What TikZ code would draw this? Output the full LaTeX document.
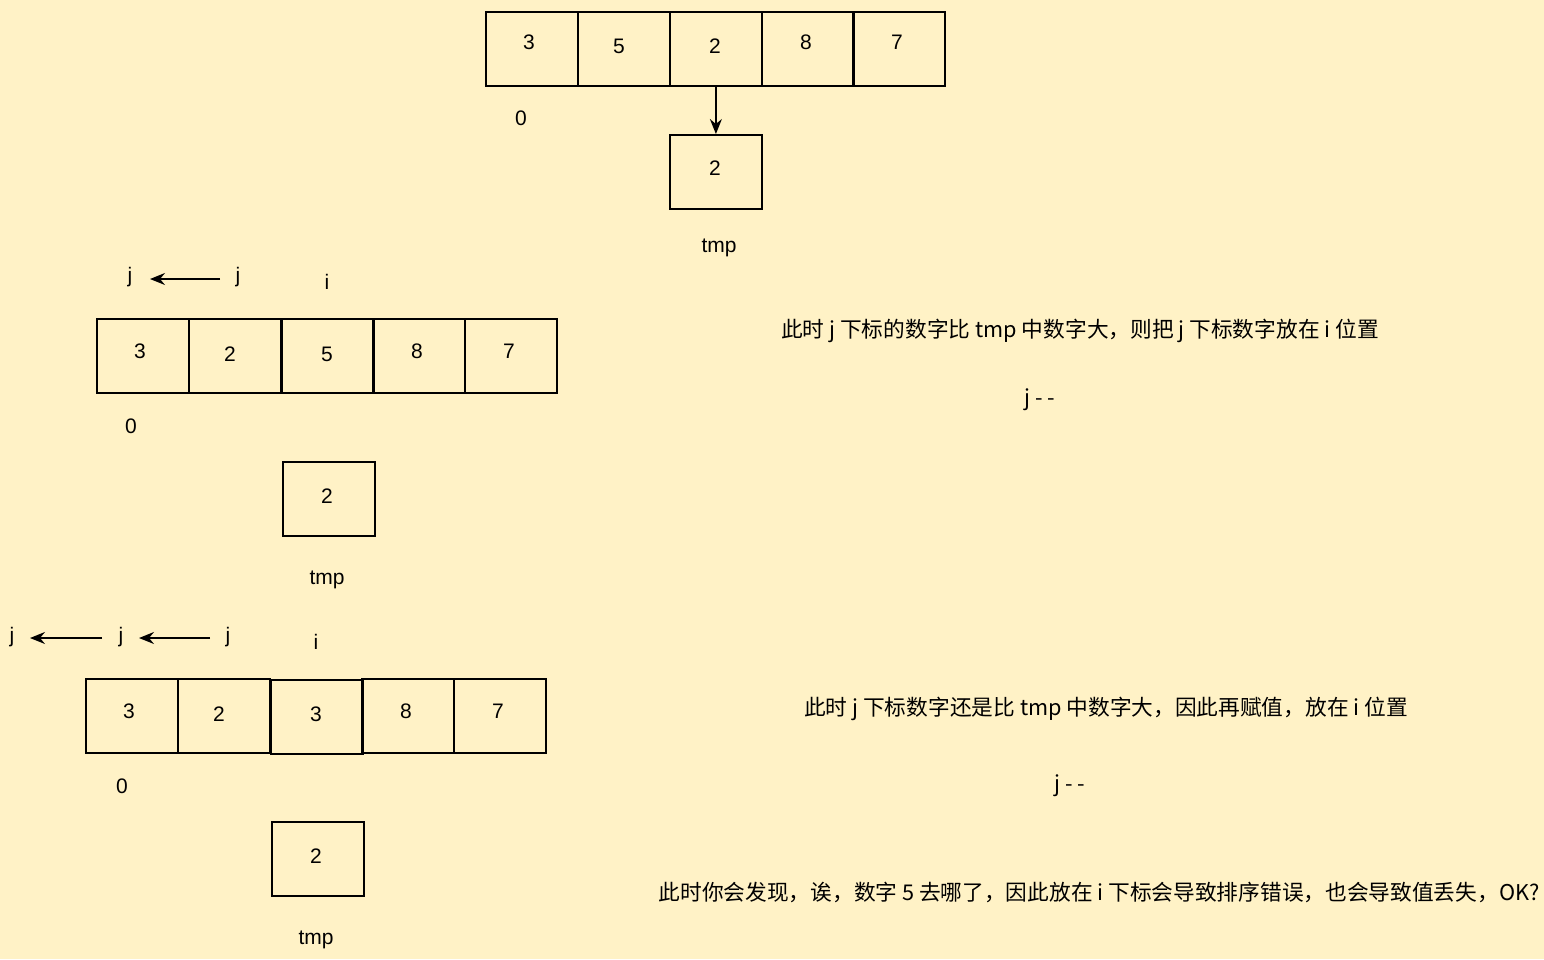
\documentclass[tikz,border=0pt]{standalone}
\usepackage{fontspec}
\setmainfont{Liberation Sans}
\newfontfamily\cjk{Noto Sans CJK SC}
\usetikzlibrary{arrows.meta}
\definecolor{bg}{HTML}{FFF2C6}
\tikzset{
  cell/.style={draw=black, line width=1.8pt, minimum width=92pt, minimum height=74pt, inner sep=0pt, anchor=north west},
  lbl/.style={inner sep=0pt, font=\fontsize{21}{25}\selectfont},
  note/.style={inner sep=0pt, font=\cjk\fontsize{21.7}{26}\selectfont},
  arr/.style={line width=1.5pt, -{Stealth[length=15pt,width=12pt,inset=5pt]}},
}
\begin{document}
\begin{tikzpicture}[x=1pt,y=-1pt]
\useasboundingbox (0,0) rectangle (1544,959);
\fill[bg] (0,0) rectangle (1544,959);

% ---- top array ----
\node[cell] (a1) at (485,11) {};
\node[cell] (a2) at (577,11) {};
\node[cell] (a3) at (669,11) {};
\node[cell] (a4) at (761,11) {};
\node[cell] (a5) at (852,11) {};
\node[lbl] (a1t) at (529,42) {3};
\node[lbl] (a2t) at (619,46) {5};
\node[lbl] (a3t) at (715,46) {2};
\node[lbl] (a4t) at (806,42) {8};
\node[lbl] (a5t) at (897,42) {7};
\node[lbl] (a0) at (521,118) {0};
\node[cell] (at) at (669,134) {};
\node[lbl] (att) at (715,168) {2};
\node[lbl] (atl) at (719,248) {tmp};
\draw[arr] (a3.south) -- (at.north);

% ---- second array ----
\node[lbl] (bj1) at (130,277) {j};
\node[lbl] (bj2) at (238,277) {j};
\node[lbl] (bi) at (327,282) {i};
\coordinate (bs) at (220,279);
\coordinate (be) at (150,279);
\draw[arr] (bs) -- (be);
\node[cell] (b1) at (96,318) {};
\node[cell] (b2) at (188,318) {};
\node[cell] (b3) at (281,318) {};
\node[cell] (b4) at (372,318) {};
\node[cell] (b5) at (464,318) {};
\node[lbl] (b1t) at (140,351) {3};
\node[lbl] (b2t) at (230,354) {2};
\node[lbl] (b3t) at (327,354) {5};
\node[lbl] (b4t) at (417,351) {8};
\node[lbl] (b5t) at (509,351) {7};
\node[lbl] (b0) at (131,426) {0};
\node[cell] (bt) at (282,461) {};
\node[lbl] (btt) at (327,496) {2};
\node[lbl] (btl) at (327,580) {tmp};

% ---- third array ----
\node[lbl] (cj1) at (12,637) {j};
\node[lbl] (cj2) at (121,637) {j};
\node[lbl] (cj3) at (228,637) {j};
\node[lbl] (ci) at (316,642) {i};
\coordinate (cs1) at (102,638);
\coordinate (ce1) at (30,638);
\coordinate (cs2) at (210,638);
\coordinate (ce2) at (139,638);
\draw[arr] (cs1) -- (ce1);
\draw[arr] (cs2) -- (ce2);
\node[cell] (c1) at (85,678) {};
\node[cell] (c2) at (177,678) {};
\node[cell] (c3) at (270,679) {};
\node[cell] (c4) at (361,678) {};
\node[cell] (c5) at (453,678) {};
\node[lbl] (c1t) at (129,711) {3};
\node[lbl] (c2t) at (219,714) {2};
\node[lbl] (c3t) at (316,714) {3};
\node[lbl] (c4t) at (406,711) {8};
\node[lbl] (c5t) at (498,711) {7};
\node[lbl] (c0) at (122,786) {0};
\node[cell] (ct) at (271,821) {};
\node[lbl] (ctt) at (316,856) {2};
\node[lbl] (ctl) at (316,940) {tmp};

% ---- notes ----
\node[note] (n1) at (1080,331) {此时 j 下标的数字比 tmp 中数字大，则把 j 下标数字放在 i 位置};
\node[note] (n2) at (1040,400) {j - -};
\node[note] (n3) at (1106,709) {此时 j 下标数字还是比 tmp 中数字大，因此再赋值，放在 i 位置};
\node[note] (n4) at (1070,786) {j - -};
\node[note] (n5) at (1099,892) {此时你会发现，诶，数字 5 去哪了，因此放在 i 下标会导致排序错误，也会导致值丢失，OK?};
\end{tikzpicture}
\end{document}
